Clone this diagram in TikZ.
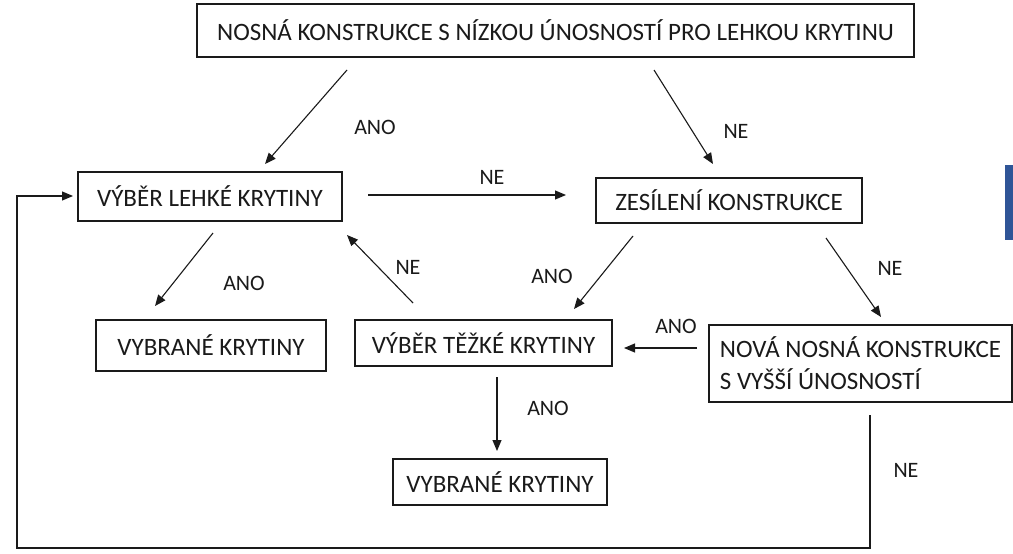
\documentclass[tikz,border=0pt]{standalone}
\usepackage{fontspec}
\setmainfont{Carlito}
\usetikzlibrary{arrows.meta}
\definecolor{barblue}{HTML}{2F5597}
\definecolor{ink}{HTML}{1A1A1A}
\begin{document}
\begin{tikzpicture}[x=1pt,y=-1pt,
 box/.style={draw=ink, line width=1.2pt, inner sep=0pt, text=ink, font=\fontsize{25}{32}\selectfont},
 lbl/.style={text=ink, inner sep=0pt, font=\fontsize{22}{26}\selectfont},
 arr/.style={draw=ink, line width=1.1pt, -{Triangle[length=11pt,width=9pt]}},
 ln/.style={draw=ink, line width=1.1pt}]
\useasboundingbox (0,0) rectangle (1013,554);
\fill[white] (0,0) rectangle (1013,554);

% boxes
\node[box, minimum width=717pt, minimum height=53pt] (top) at (555.5,30.5) {NOSNÁ KONSTRUKCE S NÍZKOU ÚNOSNOSTÍ PRO LEHKOU KRYTINU};
\node[box, minimum width=264pt, minimum height=49pt] (lehke) at (210,196.5) {VÝBĚR LEHKÉ KRYTINY};
\node[box, minimum width=266pt, minimum height=45pt] (zes) at (729,200.5) {ZESÍLENÍ KONSTRUKCE};
\node[box, minimum width=230pt, minimum height=51pt] (vybL) at (211,345.5) {VYBRANÉ KRYTINY};
\node[box, minimum width=257pt, minimum height=46pt] (tezke) at (483.5,343) {VÝBĚR TĚŽKÉ KRYTINY};
\node[box, minimum width=303pt, minimum height=77pt, align=left] (nova) at (860.5,363.5) {NOVÁ NOSNÁ KONSTRUKCE\\S VYŠŠÍ ÚNOSNOSTÍ};
\node[box, minimum width=214pt, minimum height=46pt] (vybB) at (500,482) {VYBRANÉ KRYTINY};

% blue bar
\fill[barblue] (1005,165) rectangle (1013,240);

% connector end points
\coordinate (a1s) at (347,70);  \coordinate (a1e) at (265,164);
\coordinate (a2s) at (654,70);  \coordinate (a2e) at (713,164);
\coordinate (a3s) at (368,195); \coordinate (a3e) at (566,195);
\coordinate (a4s) at (213,233); \coordinate (a4e) at (155,306);
\coordinate (a5s) at (413,303); \coordinate (a5e) at (347,235);
\coordinate (a6s) at (633,236); \coordinate (a6e) at (574,309);
\coordinate (a7s) at (826,238); \coordinate (a7e) at (881,317);
\coordinate (a8s) at (697,348); \coordinate (a8e) at (624,348);
\coordinate (a9s) at (497,377); \coordinate (a9e) at (497,451);
\coordinate (lS) at (870,415);
\coordinate (lB) at (870,548);
\coordinate (lL) at (17,548);
\coordinate (lU) at (17,196);
\coordinate (lE) at (73,196);

\draw[arr] (a1s) -- (a1e);
\draw[arr] (a2s) -- (a2e);
\draw[arr] (a3s) -- (a3e);
\draw[arr] (a4s) -- (a4e);
\draw[arr] (a5s) -- (a5e);
\draw[arr] (a6s) -- (a6e);
\draw[arr] (a7s) -- (a7e);
\draw[arr] (a8s) -- (a8e);
\draw[arr] (a9s) -- (a9e);
\draw[arr] (lS) -- (lB) -- (lL) -- (lU) -- (lE);

% labels
\node[lbl] (l1) at (375,127) {ANO};
\node[lbl] (l2) at (736,131) {NE};
\node[lbl] (l3) at (492,177) {NE};
\node[lbl] (l4) at (244,283) {ANO};
\node[lbl] (l5) at (408,267) {NE};
\node[lbl] (l6) at (552,276) {ANO};
\node[lbl] (l7) at (890,268) {NE};
\node[lbl] (l8) at (676,326) {ANO};
\node[lbl] (l9) at (548,408) {ANO};
\node[lbl] (l10) at (906,470) {NE};
\end{tikzpicture}
\end{document}
